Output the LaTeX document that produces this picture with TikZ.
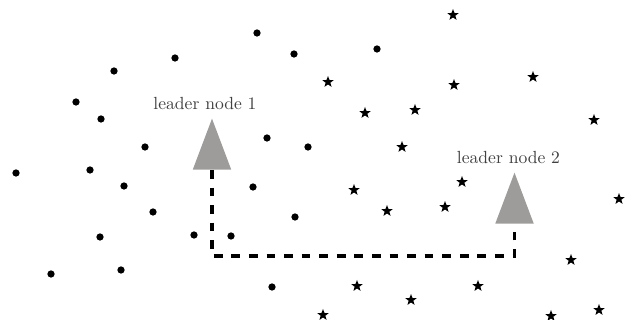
\documentclass[tikz,border=0pt]{standalone}
\usepackage{tikz}
\usetikzlibrary{shapes.geometric, positioning}

\definecolor{leadergray}{RGB}{158,156,154}

\begin{document}
\begin{tikzpicture}[x=0.02cm,y=-0.02cm,
	dot/.style={circle,fill=black,inner sep=0pt,minimum size=0.145cm},
	starnode/.style={star,star points=5,star point ratio=2.4,fill=black,inner sep=0pt,minimum size=0.24cm},
	leader/.style={isosceles triangle,isosceles triangle stretches,shape border rotate=90,
		fill=leadergray,inner sep=0pt,minimum width=0.77cm,minimum height=1.02cm},
	tag/.style={text=black!75,inner sep=1pt},
	link/.style={line width=1.9pt,dash pattern=on 5pt off 5pt}]
\useasboundingbox (0,0) rectangle (626,320);

% cluster 1
\foreach \x/\y [count=\i] in {257/33,294/54,175/58,114/71,377/49,76/102,101/119,145/147,
	267/138,308/147,16/173,90/170,124/186,153/212,253/187,295/217,100/237,194/235,
	231/236,51/274,121/270,272/287}
	\node[dot] (d\i) at (\x,\y) {};

% cluster 2
\foreach \x/\y [count=\i] in {453/15,328/82,454/85,533/77,365/113,415/110,594/120,402/147,
	354/190,462/182,387/211,445/207,619/199,571/260,357/286,478/286,411/300,323/315,
	551/316,599/310}
	\node[starnode] (s\i) at (\x,\y) {};

\node[leader,anchor=south] (L1) at (212,170) {};
\node[leader,anchor=south] (L2) at (514.5,224) {};
\node[tag] (t1) [above=0.12cm of L1,xshift=-0.14cm] {leader node 1};
\node[tag] (t2) [above=0.12cm of L2,xshift=-0.12cm] {leader node 2};

\coordinate (c1) at (212,256);
\coordinate (c2) at (514.5,256);
\draw[link] (L1.south) -- (c1) -- (c2) -- (L2.south);
\end{tikzpicture}
\end{document}
